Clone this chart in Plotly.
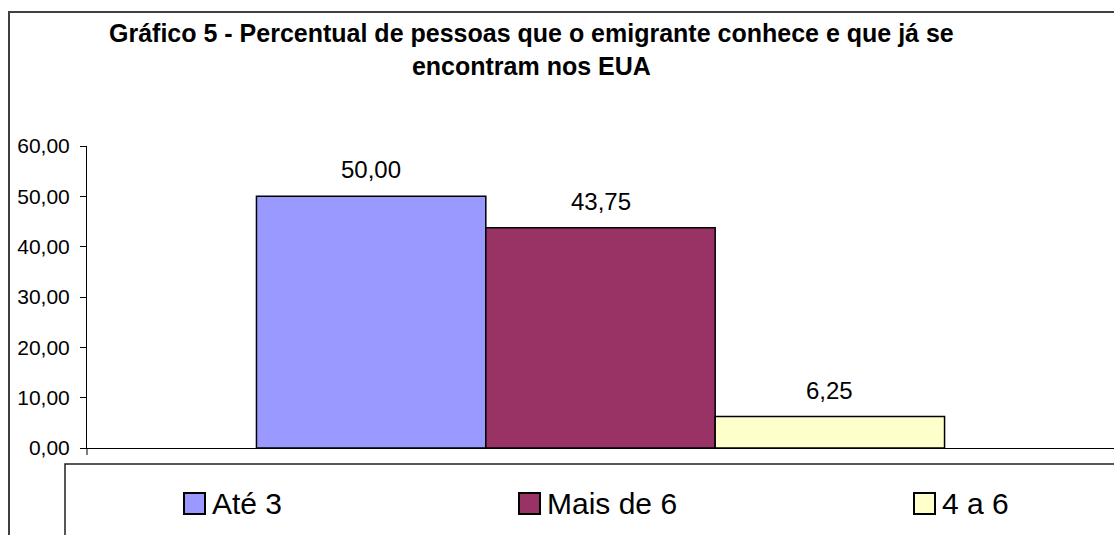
import plotly.graph_objects as go

# ---- data ----
categories = [""]
series_names = ["Até 3", "Mais de 6", "4 a 6"]
series_values = [50.00, 43.75, 6.25]
series_colors = ["#9999FF", "#993366", "#FFFFCC"]
y_ticks = [0, 10, 20, 30, 40, 50, 60]
title_lines = ["Gráfico 5 - Percentual de pessoas que o emigrante conhece e que já se",
               "encontram nos EUA"]

W, H = 1114, 535
ML, MR, MT, MB = 87, 0, 146, 87
PW = W - ML - MR
PH = H - MT - MB
FONT = "Arial, 'Liberation Sans', sans-serif"


def px(x):
    return (x - ML) / PW


def py(y):
    return (H - MB - y) / PH


def fmt(v):
    return f"{v:.2f}".replace(".", ",")


BARGAP = 0.33
fig = go.Figure()
for name, val, col in zip(series_names, series_values, series_colors):
    fig.add_trace(go.Bar(
        x=categories, y=[val], name=name,
        marker=dict(color=col, line=dict(color="black", width=1.5)),
        showlegend=False, hoverinfo="skip",
    ))

n = len(series_names)
group_w = 1 - BARGAP
annotations = []
for i, val in enumerate(series_values):
    xc = -group_w / 2 + group_w / n * (i + 0.5)
    annotations.append(dict(
        x=xc, y=val, xref="x", yref="y", text=fmt(val), showarrow=False,
        yanchor="bottom", yshift=11, font=dict(family=FONT, size=24, color="black"),
    ))

# title
annotations.append(dict(
    x=px(531), y=py(12), xref="paper", yref="paper",
    text="<b>" + title_lines[0] + "</b><br><b>" + title_lines[1] + "</b>",
    showarrow=False, xanchor="center", yanchor="top", yshift=-5,
    font=dict(family=FONT, size=25, color="black"),
))

shapes = []
# outer chart frame
shapes.append(dict(type="rect", xref="paper", yref="paper",
                   x0=px(9), y0=py(560), x1=px(1130), y1=py(12),
                   line=dict(color="#404040", width=2), layer="below"))
# legend box
shapes.append(dict(type="rect", xref="paper", yref="paper",
                   x0=px(65), y0=py(560), x1=px(1130), y1=py(464),
                   line=dict(color="#202020", width=1.5)))
# x-axis boundary tick
shapes.append(dict(type="line", xref="paper", yref="paper",
                   x0=0, y0=py(H - MB), x1=0, y1=py(H - MB + 7),
                   line=dict(color="black", width=1)))

# manual legend
leg_sq_x = [184, 519, 914]
for name, col, sx in zip(series_names, series_colors, leg_sq_x):
    shapes.append(dict(type="rect", xref="paper", yref="paper",
                       x0=px(sx), x1=px(sx + 21), y0=py(514), y1=py(493),
                       fillcolor=col, line=dict(color="black", width=2)))
    annotations.append(dict(
        x=px(sx + 26), y=py(503.5), xref="paper", yref="paper", text=name,
        showarrow=False, xanchor="left", yanchor="middle",
        font=dict(family=FONT, size=30, color="black"),
    ))

fig.update_layout(
    width=W, height=H,
    margin=dict(l=ML, r=MR, t=MT, b=MB, pad=0),
    paper_bgcolor="white", plot_bgcolor="white",
    barmode="group", bargap=BARGAP, bargroupgap=0,
    separators=",.",
    showlegend=False,
    hovermode=False,
    annotations=annotations,
    shapes=shapes,
    xaxis=dict(type="category", range=[-0.5, 0.5], showticklabels=False,
               showline=True, linecolor="black", linewidth=1,
               showgrid=False, zeroline=False, ticks=""),
    yaxis=dict(range=[0, 60], tickvals=y_ticks, tickformat=".2f",
               showline=True, linecolor="black", linewidth=1,
               ticks="outside", ticklen=6, tickcolor="black", tickwidth=1,
               ticklabelstandoff=6,
               showgrid=False, zeroline=False,
               tickfont=dict(family=FONT, size=21, color="black")),
)

fig.write_html("out.html", config={"displayModeBar": False},
               post_script="document.body.style.margin='0';document.body.style.padding='0';")
